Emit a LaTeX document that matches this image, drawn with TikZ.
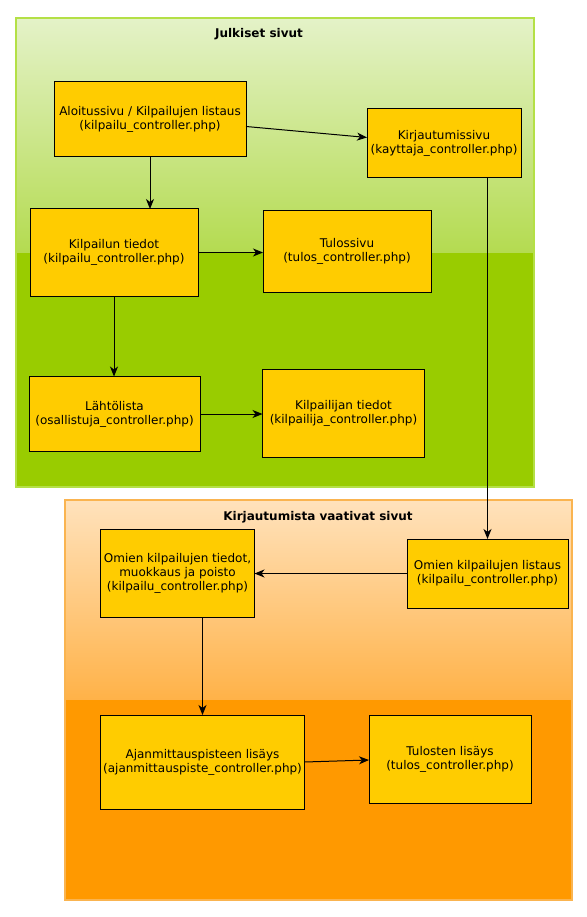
\documentclass[tikz,border=0pt]{standalone}
\usepackage{fontspec}
\setmainfont{DejaVu Sans}
\usetikzlibrary{arrows.meta}

\definecolor{boxfill}{RGB}{255,204,0}
\definecolor{greentop}{RGB}{228,242,200}
\definecolor{greenmid}{RGB}{180,219,80}
\definecolor{greenbase}{RGB}{153,204,0}
\definecolor{greenline}{RGB}{180,224,70}
\definecolor{orangetop}{RGB}{255,226,188}
\definecolor{orangemid}{RGB}{255,178,72}
\definecolor{orangebase}{RGB}{255,153,0}
\definecolor{orangeline}{RGB}{250,180,80}

\begin{document}
\begin{tikzpicture}[->,>={Stealth[length=10pt,width=8pt,inset=3pt]},
  x=1pt,y=-1pt,line width=1pt,
  every node/.append style={font=\fontsize{12}{14}\selectfont},
  page/.style={draw=black,fill=boxfill,align=center,inner sep=0pt,outer sep=0pt}]
  \tikzstyle{title} = [font=\fontsize{12}{14}\selectfont\bfseries,color=black]
  \useasboundingbox (0,0) rectangle (586,917);
  % julkiset sivut
  \shade[-,top color=greentop,bottom color=greenmid] (16,18) rectangle (534,253);
  \fill[-,greenbase] (16,253) rectangle (534,487);
  \draw[-,greenline,line width=1.5pt] (16,18) rectangle (534,487);
  % kirjautumista vaativat sivut
  \shade[-,top color=orangetop,bottom color=orangemid] (65,500) rectangle (572,700);
  \fill[-,orangebase] (65,700) rectangle (572,900);
  \draw[-,orangeline,line width=1.5pt] (65,500) rectangle (572,900);

  \node (0_1) [title] at (259,34) {Julkiset sivut};
  \node (0_2) [title] at (318,517) {Kirjautumista vaativat sivut};

  \node (1_1) [page,minimum width=192pt,minimum height=75pt] at (150,119.5) {Aloitussivu / Kilpailujen listaus\\(kilpailu\_controller.php)};
  \node (1_2) [page,minimum width=154pt,minimum height=69pt] at (444,143.5) {Kirjautumissivu\\(kayttaja\_controller.php)};
  \node (1_3) [page,minimum width=168pt,minimum height=87pt] at (114,252.5) {Kilpailun tiedot\\(kilpailu\_controller.php)};
  \node (1_4) [page,minimum width=168pt,minimum height=81pt] at (347,251.5) {Tulossivu\\(tulos\_controller.php)};
  \node (1_5) [page,minimum width=171pt,minimum height=75pt] at (114.5,414) {Lähtölista\\(osallistuja\_controller.php)};
  \node (1_6) [page,minimum width=162pt,minimum height=88pt] at (343.5,413.5) {Kilpailijan tiedot\\(kilpailija\_controller.php)};

  \node (2_1) [page,minimum width=154pt,minimum height=88pt] at (177.5,573) {Omien kilpailujen tiedot,\\muokkaus ja poisto\\(kilpailu\_controller.php)};
  \node (2_2) [page,minimum width=161pt,minimum height=69pt] at (487.5,573.5) {Omien kilpailujen listaus\\(kilpailu\_controller.php)};
  \node (2_3) [page,minimum width=204pt,minimum height=94pt] at (202.5,762) {Ajanmittauspisteen lisäys\\(ajanmittauspiste\_controller.php)};
  \node (2_4) [page,minimum width=162pt,minimum height=88pt] at (450,759) {Tulosten lisäys\\(tulos\_controller.php)};

  \draw ([yshift=-7pt]1_1.east) -- ([yshift=6pt]1_2.west);
  \draw (1_1.south) -- (1_1.south |- 1_3.north);
  \draw (1_3.east) -- (1_3.east -| 1_4.west);
  \draw (1_3.south) -- (1_3.south |- 1_5.north);
  \draw (1_5.east) -- (1_5.east -| 1_6.west);
  \draw (2_2.north |- 1_2.south) -- (2_2.north);
  \draw (2_2.west) -- (2_2.west -| 2_1.east);
  \draw (2_3.north |- 2_1.south) -- (2_3.north);
  \draw (2_3.east) -- ([yshift=-1pt]2_4.west);
\end{tikzpicture}
\end{document}
